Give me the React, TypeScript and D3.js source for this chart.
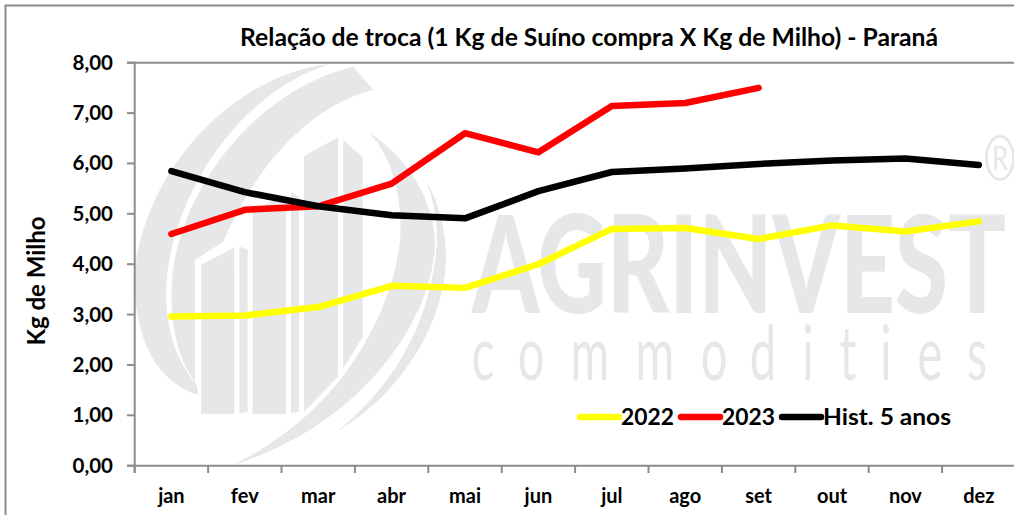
import React from "react";
import * as d3 from "d3";

const months = ["jan", "fev", "mar", "abr", "mai", "jun", "jul", "ago", "set", "out", "nov", "dez"];
const yTicks = [0, 1, 2, 3, 4, 5, 6, 7, 8];
const values2022 = [2.96, 2.98, 3.15, 3.57, 3.53, 4.0, 4.7, 4.72, 4.5, 4.77, 4.65, 4.85];
const values2023 = [4.6, 5.08, 5.15, 5.6, 6.6, 6.22, 7.14, 7.2, 7.5];
const valuesHist = [5.85, 5.43, 5.15, 4.97, 4.91, 5.45, 5.83, 5.9, 5.99, 6.06, 6.1, 5.97];
const legendItems = ["2022", "2023", "Hist. 5 anos"];
const legendColors = ["#ffff00", "#ff0000", "#000000"];
const legendLineX = [578, 679, 780];
const legendWidths = [53, 53, 128];

const wmLetters = "commodities".split("");
const wmCenters = [483, 531, 590, 655, 714, 763, 808, 848, 886, 930, 977];

const FONT = "Lato, 'Open Sans', sans-serif";
const AXIS = "#8c8c8c";
const WM = "#e6e7e9";

const logoPaths = [
  "M600,12 C330,40 60,300 15,620 C5,800 60,960 205,1005 L200,975 C120,880 100,760 112,640 C140,400 320,100 600,12 Z",
  "M670,20 L730,90 C560,130 390,290 280,545 L195,600 L195,965 C130,880 115,750 130,620 C170,370 380,90 670,20 Z",
  "M720,220 C830,290 920,430 915,560 C900,800 680,1100 310,1215 C400,1170 460,1125 520,1075 C680,940 810,700 812,500 C810,380 780,290 720,220 Z",
  "M890,365 C940,450 955,560 945,640 C920,850 770,1030 620,1115 C780,990 900,800 920,560 C925,490 910,420 890,365 Z",
  "M213,615 L313,562 L313,1062 L213,1062 Z",
  "M328,560 L353,568 L353,1055 L328,1060 Z",
  "M368,450 L468,405 L468,1062 L368,1062 Z",
  "M483,395 L507,410 L507,1055 L483,1060 Z",
  "M522,288 L624,232 L624,950 L522,1055 Z",
  "M640,240 L698,292 L698,830 L640,925 Z",
];

export default function App() {
  const x = d3.scaleBand<string>().domain(months).range([134.7, 1015.5]);
  const y = d3.scaleLinear().domain([0, 8]).range([465.7, 62.7]);
  const line = d3
    .line<number>()
    .x((_, i) => (x(months[i]) as number) + x.bandwidth() / 2)
    .y((d) => y(d));
  const series = [
    { v: values2022, c: legendColors[0] },
    { v: values2023, c: legendColors[1] },
    { v: valuesHist, c: legendColors[2] },
  ];
  return (
    <svg
      width={1014}
      height={515}
      style={{ position: "fixed", left: 0, top: 0, background: "#fff" }}
      fontFamily={FONT}
    >
      <defs>
        <clipPath id="plot">
          <rect x={135} y={63} width={880} height={402} />
        </clipPath>
      </defs>
      <path d="M5.5,515 V5.5 H1014" fill="none" stroke={AXIS} strokeWidth={2} />

      <g clipPath="url(#plot)">
        <g transform="translate(130,60) scale(0.3333)" fill={WM}>
          {logoPaths.map((d, i) => (
            <path key={i} d={d} />
          ))}
        </g>
        <text
          x={472}
          y={313}
          fontSize={136}
          fontWeight={900}
          fill={WM}
          textLength={534}
          lengthAdjust="spacingAndGlyphs"
        >
          AGRINVEST
        </text>
        {wmLetters.map((ch, i) => (
          <text
            key={i}
            transform={`translate(${wmCenters[i]},380) scale(0.62,1)`}
            textAnchor="middle"
            fontSize={76}
            fontWeight={400}
            fill={WM}
          >
            {ch}
          </text>
        ))}
        <ellipse cx={1000} cy={158} rx={13.5} ry={21.5} fill="none" stroke={WM} strokeWidth={3} />
        <text
          transform="translate(1000,170) scale(0.8,1)"
          textAnchor="middle"
          fontSize={32}
          fontWeight={400}
          fill={WM}
        >
          R
        </text>
      </g>

      <line x1={127} x2={1014} y1={y(8)} y2={y(8)} stroke={AXIS} strokeWidth={2} />
      <line x1={127} x2={1014} y1={y(0)} y2={y(0)} stroke={AXIS} strokeWidth={2} />
      <line x1={134.7} x2={134.7} y1={y(8)} y2={473} stroke={AXIS} strokeWidth={2} />
      {yTicks.map((t) => (
        <g key={t}>
          <line x1={127} x2={134.7} y1={y(t)} y2={y(t)} stroke={AXIS} strokeWidth={2} />
          <text x={113} y={y(t)} dy="0.34em" textAnchor="end" fontSize={20.5} fontWeight={700} fill="#000">
            {d3.format(".2f")(t).replace(".", ",")}
          </text>
        </g>
      ))}
      {months.map((m) => (
        <g key={m}>
          <line x1={x(m)} x2={x(m)} y1={y(0)} y2={473} stroke={AXIS} strokeWidth={2} />
          <text
            x={(x(m) as number) + x.bandwidth() / 2}
            y={503}
            textAnchor="middle"
            fontSize={20}
            fontWeight={700}
            fill="#000"
          >
            {m}
          </text>
        </g>
      ))}

      {series.map((s) => (
        <path
          key={s.c}
          d={line(s.v) as string}
          fill="none"
          stroke={s.c}
          strokeWidth={6.5}
          strokeLinecap="round"
          strokeLinejoin="round"
        />
      ))}

      <text x={240} y={46} fontSize={24} fontWeight={700} fill="#000" textLength={698} lengthAdjust="spacingAndGlyphs">
        Relação de troca (1 Kg de Suíno compra X Kg de Milho) - Paraná
      </text>
      <text
        transform="translate(45,281) rotate(-90)"
        textAnchor="middle"
        fontSize={24}
        fontWeight={700}
        fill="#000"
      >
        Kg de Milho
      </text>

      {legendItems.map((t, i) => (
        <g key={t}>
          <line
            x1={legendLineX[i] + 2}
            x2={legendLineX[i] + 41}
            y1={417}
            y2={417}
            stroke={legendColors[i]}
            strokeWidth={6.5}
            strokeLinecap="round"
          />
          <text
            x={legendLineX[i] + 43}
            y={424.5}
            fontSize={23.5}
            fontWeight={700}
            fill="#000"
            textLength={legendWidths[i]}
            lengthAdjust="spacingAndGlyphs"
          >
            {t}
          </text>
        </g>
      ))}
    </svg>
  );
}
